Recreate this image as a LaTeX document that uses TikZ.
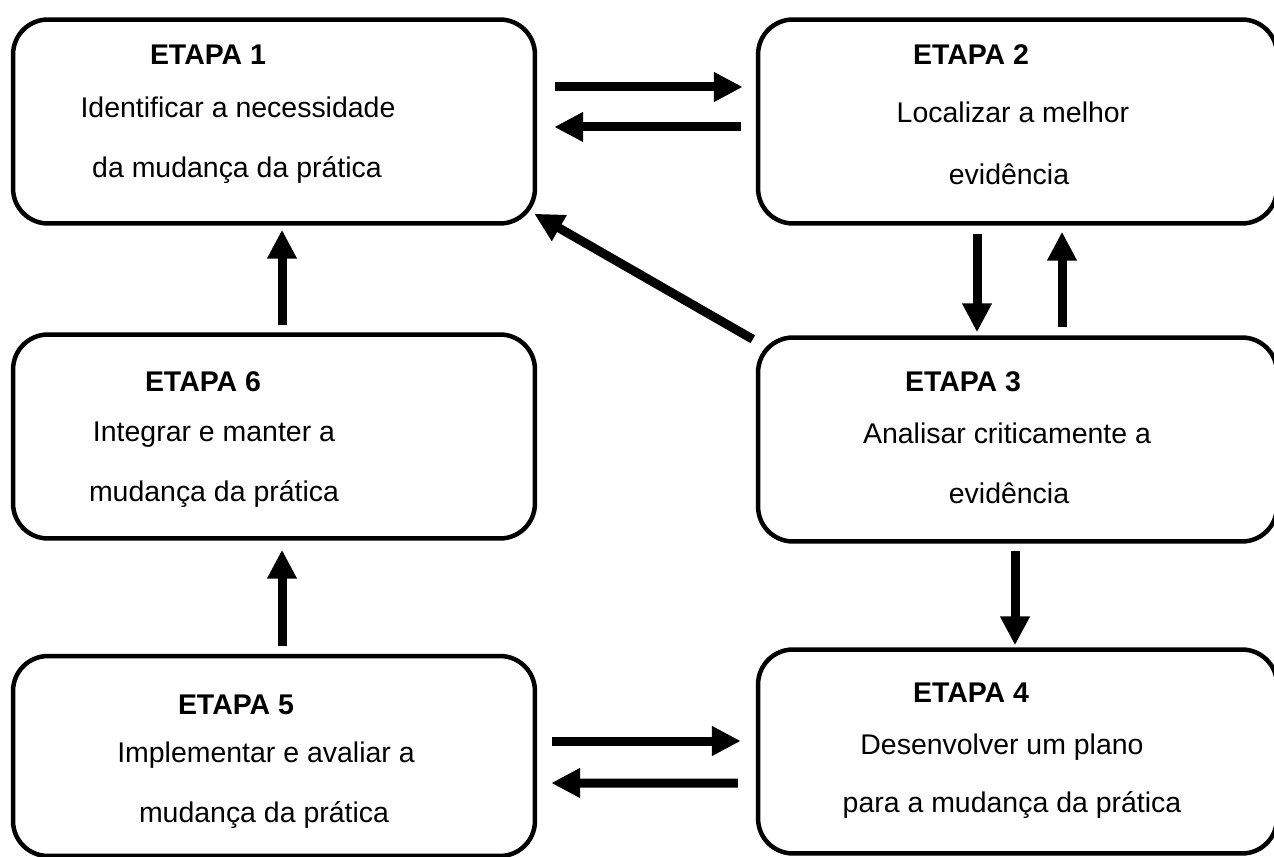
\documentclass[tikz,border=0pt]{standalone}
\usepackage{fontspec}
\setmainfont{Liberation Sans}
\usepackage{tikz}
\usetikzlibrary{arrows.meta}
\usetikzlibrary{calc}

\tikzset{
    etapabox/.style={draw, line width=0.09cm, rounded corners=0.7cm, inner sep=0pt, minimum width=10.44cm, minimum height=4.08cm},
    etapa/.style={anchor=base, font=\fontsize{16.2}{19}\selectfont\bfseries},
    texto/.style={anchor=base, font=\fontsize{16.2}{19}\selectfont},
    seta/.style={line width=0.18cm, -{Triangle[length=0.58cm, width=0.56cm]}}
}

\begin{document}
\begin{tikzpicture}[x=0.02cm, y=-0.02cm]
                \path[use as bounding box, clip] (0, 0) rectangle (1274, 857);

                % Etapa 1
                \node[etapabox] (b1) at (274, 121.5) {};
                \node[etapa] (t1) at (208, 65) {ETAPA 1};
                \node[texto] (t1a) at (238, 118) {Identificar a necessidade};
                \node[texto] (t1b) at (237, 178) {da mudança da prática};

                % Etapa 2
                \node[etapabox, minimum width=10.38cm] (b2) at (1017.5, 121.5) {};
                \node[etapa] (t2) at (971, 65) {ETAPA 2};
                \node[texto] (t2a) at (1013, 123) {Localizar a melhor};
                \node[texto] (t2b) at (1009, 185) {evidência};

                % Etapa 3
                \node[etapabox, minimum width=10.38cm] (b3) at (1017.5, 439.5) {};
                \node[etapa] (t3) at (963, 392) {ETAPA 3};
                \node[texto] (t3a) at (1007, 444) {Analisar criticamente a};
                \node[texto] (t3b) at (1009, 504) {evidência};

                % Etapa 4
                \node[etapabox, minimum width=10.38cm] (b4) at (1017.5, 751.5) {};
                \node[etapa] (t4) at (971, 702) {ETAPA 4};
                \node[texto] (t4a) at (1002, 754) {Desenvolver um plano};
                \node[texto] (t4b) at (1012, 812) {para a mudança da prática};

                % Etapa 5
                \node[etapabox, minimum height=4cm] (b5) at (274, 756) {};
                \node[etapa] (t5) at (236, 714) {ETAPA 5};
                \node[texto] (t5a) at (266, 762) {Implementar e avaliar a};
                \node[texto] (t5b) at (264, 822) {mudança da prática};

                % Etapa 6
                \node[etapabox] (b6) at (274, 436.5) {};
                \node[etapa] (t6) at (203, 392) {ETAPA 6};
                \node[texto] (t6a) at (214, 442) {Integrar e manter a};
                \node[texto] (t6b) at (214, 502) {mudança da prática};

                % Setas
                \draw[seta] ($(b1.east)+(18,-34.5)$) -- ($(b2.west)+(-13,-34.5)$);
                \draw[seta] ($(b2.west)+(-15,5.5)$) -- ($(b1.east)+(17,5.5)$);
                \draw[seta] ($(b2.south)+(-40.5,8)$) -- ($(b3.north)+(-40.5,-3)$);
                \draw[seta] ($(b3.north)+(44.5,-8)$) -- ($(b2.south)+(44.5,6)$);
                \draw[seta] ($(b3.north west)+(-3,4)$) -- ($(b1.south east)+(-3,-12)$);
                \draw[seta] ($(b3.south)+(-2.5,7)$) -- ($(b4.north)+(-2.5,-2)$);
                \draw[seta] ($(b5.east)+(15,-15)$) -- ($(b4.west)+(-15,-10.5)$);
                \draw[seta] ($(b4.west)+(-18,31.5)$) -- ($(b5.east)+(14,27)$);
                \draw[seta] ($(b5.north)+(8,-8)$) -- ($(b6.south)+(8,9)$);
                \draw[seta] ($(b6.north)+(8,-7)$) -- ($(b1.south)+(8,4)$);
            \end{tikzpicture}
\end{document}
